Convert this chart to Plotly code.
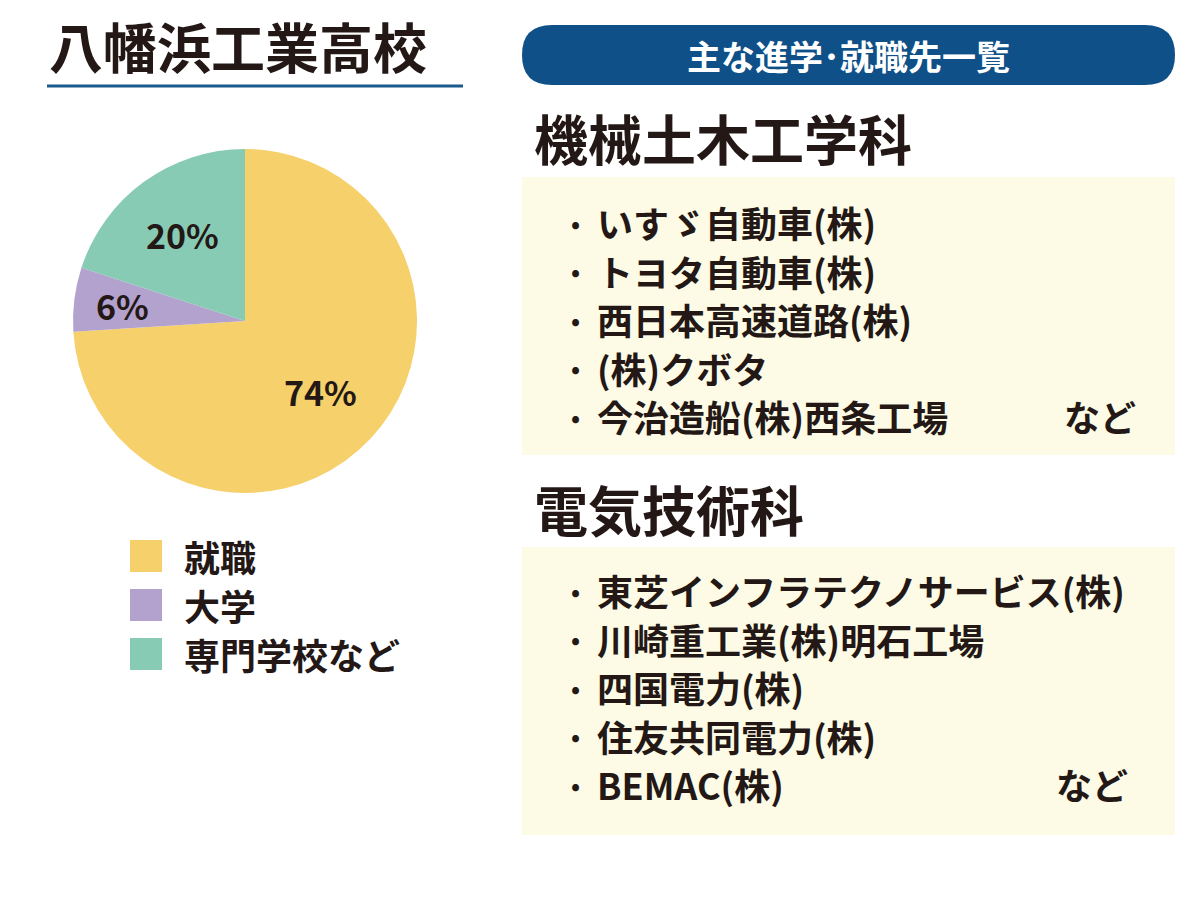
import math
import plotly.graph_objects as go

labels = ["就職", "大学", "専門学校など"]
values = [74, 6, 20]
colors = ["#F5D06B", "#B3A1CE", "#88CBB5"]

school = "八幡浜工業高校"
header = "主な進学･就職先一覧"
dept1 = "機械土木工学科"
dept1_items = ["いすゞ自動車(株)", "トヨタ自動車(株)", "西日本高速道路(株)", "(株)クボタ", "今治造船(株)西条工場"]
dept2 = "電気技術科"
dept2_items = ["東芝インフラテクノサービス(株)", "川崎重工業(株)明石工場", "四国電力(株)", "住友共同電力(株)", "BEMAC(株)"]

W, H = 1200, 905
FONT = "Noto Sans CJK JP"
OFF = 8  # page body margin

def px(x):
    return (x - OFF) / W

def py(y):
    return 1 - (y - OFF) / H

fig = go.Figure()
fig.add_trace(go.Pie(
    labels=labels, values=values, sort=False, direction="clockwise", rotation=0,
    marker=dict(colors=colors, line=dict(width=0)),
    textinfo="none",
    domain=dict(x=[px(73), px(417)], y=[py(493), py(149)]),
    showlegend=False, hoverinfo="label+percent",
))

shapes = []
ann = []

def text(x, y, s, size, color="#231815", anchor="left"):
    ann.append(dict(x=px(x), y=py(y), xref="paper", yref="paper", text=s, showarrow=False,
                    xanchor=anchor, yanchor="middle", font=dict(family=FONT, size=size, color=color)))

def rect(x0, y0, x1, y1, color):
    shapes.append(dict(type="rect", xref="paper", yref="paper", x0=px(x0), x1=px(x1),
                       y0=py(y1), y1=py(y0), fillcolor=color, line=dict(width=0), layer="below"))

# percent labels placed from slice mid-angles
cx, cy, r = 245, 321, 172
radii = [0.6, 0.72, 0.62]
cum = 0
for v, rr in zip(values, radii):
    mid = (cum + v / 2) / sum(values) * 2 * math.pi
    cum += v
    text(cx + rr * r * math.sin(mid), cy - rr * r * math.cos(mid), f"<b>{v}%</b>", 34, anchor="center")

# title
text(47, 45, "<b>" + school + "</b>", 54)
shapes.append(dict(type="line", xref="paper", yref="paper", x0=px(47), x1=px(463),
                   y0=py(86), y1=py(86), line=dict(color="#1B5A8C", width=3)))

# legend
for i, (lab, c) in enumerate(zip(labels, colors)):
    yy = 556 + i * 49
    rect(130, yy - 16, 162, yy + 16, c)
    text(182, yy, "<b>" + lab + "</b>", 36)

# header pill
shapes.append(dict(type="path", xref="paper", yref="paper",
                   path=f"M {px(552)},{py(25)} L {px(1145)},{py(25)} "
                        f"Q {px(1175)},{py(25)} {px(1175)},{py(55)} Q {px(1175)},{py(85)} {px(1145)},{py(85)} "
                        f"L {px(552)},{py(85)} Q {px(522)},{py(85)} {px(522)},{py(55)} Q {px(522)},{py(25)} {px(552)},{py(25)} Z",
                   fillcolor="#0E5087", line=dict(width=0)))
text(848, 55, "<b>" + header + "</b>", 34, "white", "center")

# departments
for title, ty, items, y0, box in [(dept1, 138, dept1_items, 222, (177, 455)),
                                  (dept2, 508, dept2_items, 590, (547, 835))]:
    text(532, ty, "<b>" + title + "</b>", 54)
    rect(522, box[0], 1175, box[1], "#FDFBE6")
    for j, it in enumerate(items):
        yy = y0 + j * 48.5
        text(575, yy, "<b>•</b>", 24, anchor="center")
        text(595, yy, "<b>" + it + "</b>", 36)
    text(1138 if title == dept1 else 1130, y0 + 4 * 48.5, "<b>など</b>", 36, anchor="right")

fig.update_layout(width=W, height=H, margin=dict(l=0, r=0, t=0, b=0),
                  paper_bgcolor="white", plot_bgcolor="white",
                  shapes=shapes, annotations=ann)
fig.write_html("out.html")
